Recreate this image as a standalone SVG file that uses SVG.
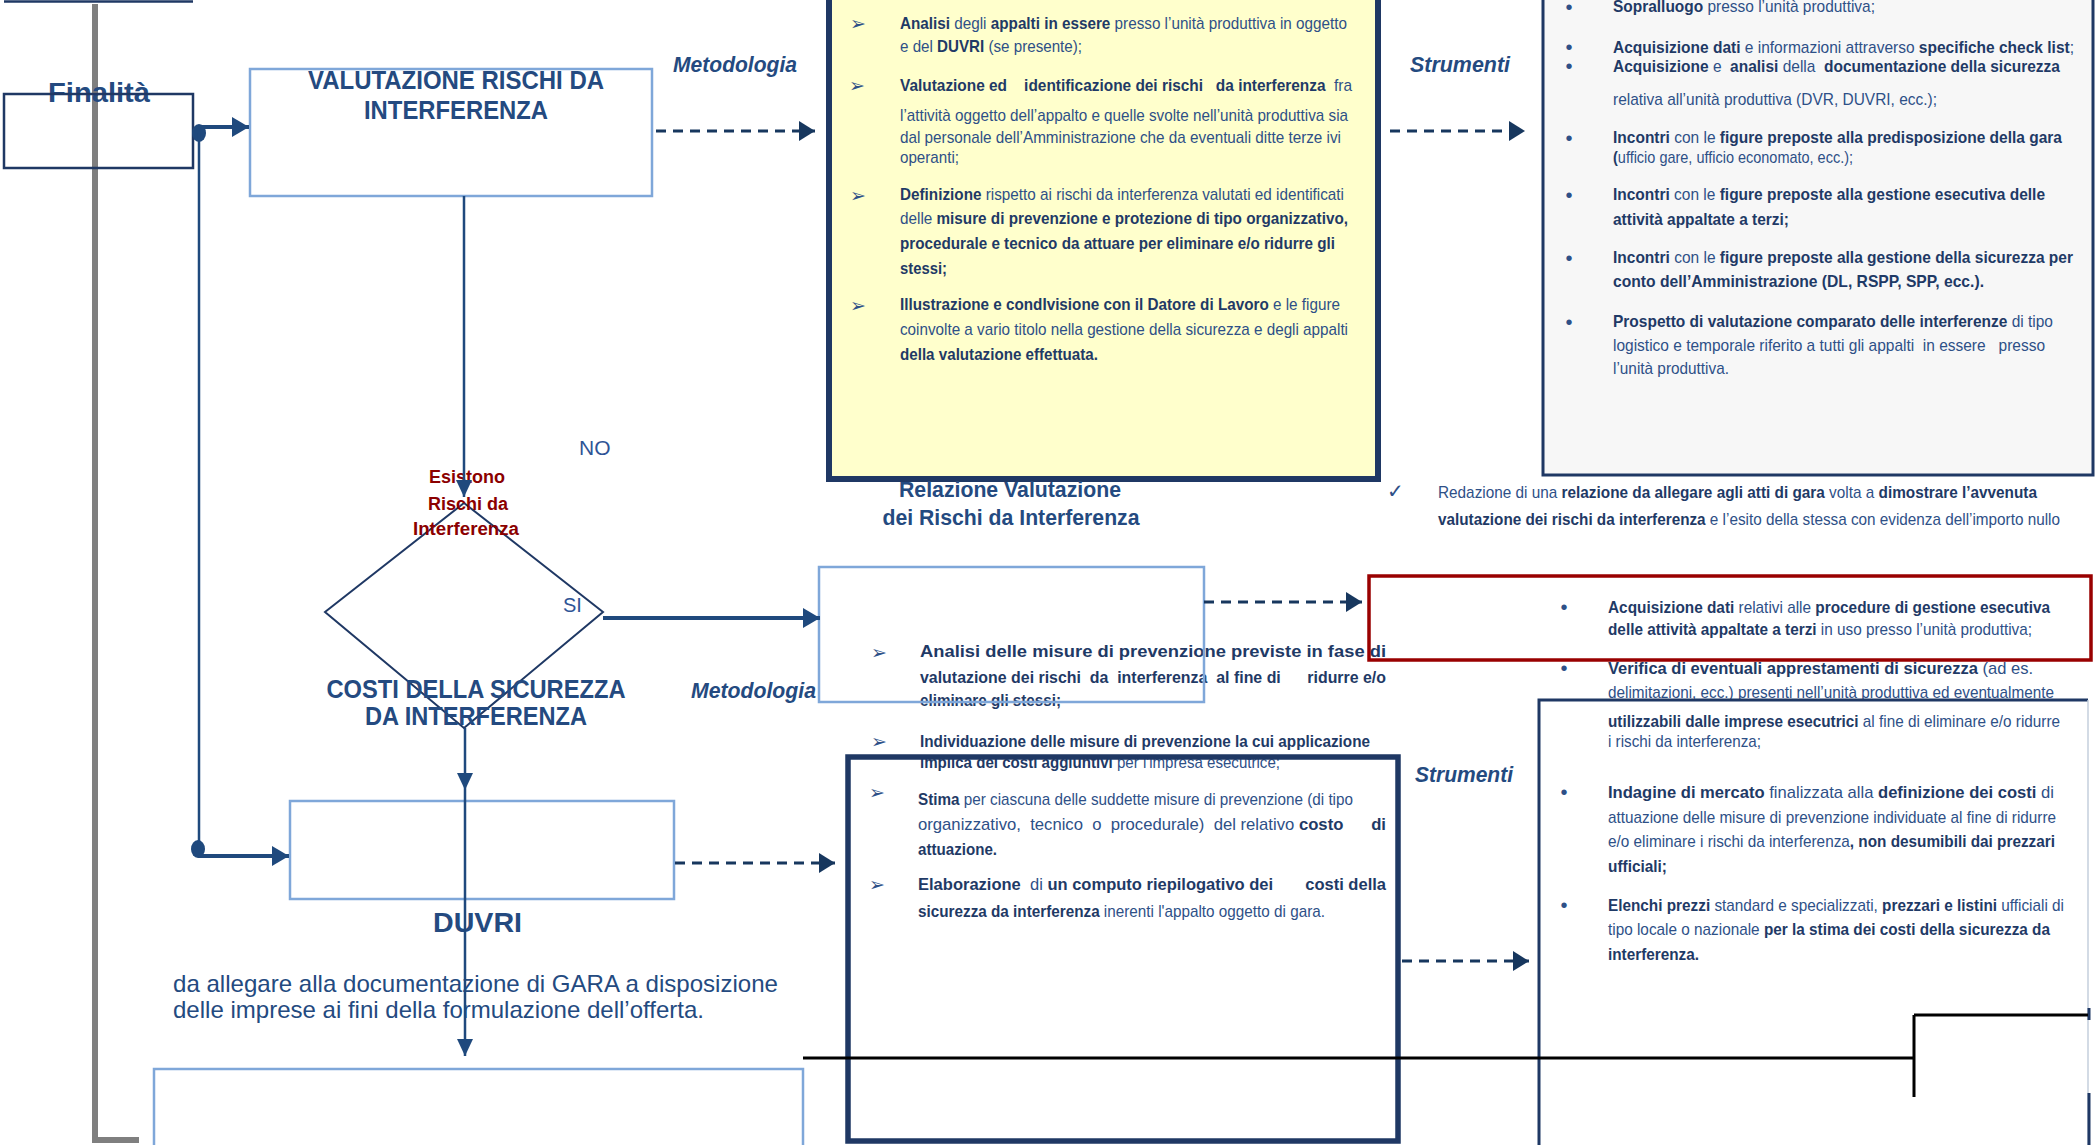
<svg xmlns="http://www.w3.org/2000/svg" width="2100" height="1145" viewBox="0 0 2100 1145">
<defs>
<style>
.bx{fill:none;stroke:#7fa7d9;stroke-width:2.5}
.t{font-family:"Liberation Sans Narrow","Liberation Sans",Arial,sans-serif;font-size:17px;fill:#2e5087}
.b{font-weight:700;fill:#1f3a66}
.h{font-family:"Liberation Sans",Arial,sans-serif;font-weight:700;fill:#244a80}
.hi{font-style:italic;font-size:22px}
.bul{font-family:"DejaVu Sans",sans-serif;font-size:19px;fill:#2e5087;text-anchor:middle}
.dot{font-family:"Liberation Sans",Arial,sans-serif;font-size:20px;fill:#2e5087;text-anchor:middle}
.dash{fill:none;stroke:#17375e;stroke-width:3.2;stroke-dasharray:10 7}
.sol{fill:none;stroke:#1f497d;stroke-width:2.5}
.thk{fill:none;stroke:#1f497d;stroke-width:4}
.nvb{fill:none;stroke:#1f3864}
.blk{fill:none;stroke:#000;stroke-width:3}
</style>
<marker id="ah" markerUnits="userSpaceOnUse" viewBox="0 0 16 20" refX="16" refY="10" markerWidth="16" markerHeight="20" orient="auto"><path d="M0,0L16,10L0,20z" fill="#17375e"/></marker>
<marker id="ar" markerUnits="userSpaceOnUse" viewBox="0 0 17 20" refX="17" refY="10" markerWidth="17" markerHeight="20" orient="auto"><path d="M0,0L17,10L0,20z" fill="#1f497d"/></marker>
<marker id="av" markerUnits="userSpaceOnUse" viewBox="0 0 17 16" refX="17" refY="8" markerWidth="17" markerHeight="16" orient="auto"><path d="M0,0L17,8L0,16z" fill="#1f497d"/></marker>
</defs>
<rect x="0" y="0" width="2100" height="1145" fill="#fff"/>

<g id="timeline">
<path d="M95,4 V1140 H139" fill="none" stroke="#7f7f7f" stroke-width="6"/>
<path d="M4,1.5 H193" class="nvb" stroke-width="2.5"/>
</g>

<g id="finalita">
<text class="h" x="48" y="102" font-size="28" textLength="102" lengthAdjust="spacingAndGlyphs">Finalità</text>
<rect x="4" y="94" width="189" height="74" class="nvb" stroke-width="2.5"/>
</g>

<g id="valutazione">
<rect x="250" y="69" width="402" height="127" class="bx"/>
<text class="h" x="456" y="89" font-size="25" text-anchor="middle" textLength="296" lengthAdjust="spacingAndGlyphs">VALUTAZIONE RISCHI DA</text>
<text class="h" x="456" y="119" font-size="25" text-anchor="middle" textLength="184" lengthAdjust="spacingAndGlyphs">INTERFERENZA</text>
</g>

<g id="metodologia1">
<text class="h hi" x="673" y="72" textLength="124" lengthAdjust="spacingAndGlyphs">Metodologia</text>
<rect x="829" y="-10" width="549" height="489" fill="#ffffcc" stroke="#1f3864" stroke-width="6"/>
<text class="bul" x="858" y="30">➢</text>
<text class="bul" x="857" y="92" font-size="14">➢</text>
<text class="bul" x="858" y="202">➢</text>
<text class="bul" x="858" y="312">➢</text>
<text class="t" x="900" y="29" textLength="447" lengthAdjust="spacingAndGlyphs"><tspan class="b">Analisi</tspan> degli <tspan class="b">appalti in essere</tspan> presso l’unità produttiva in oggetto</text>
<text class="t" x="900" y="52" textLength="182" lengthAdjust="spacingAndGlyphs">e del <tspan class="b">DUVRI</tspan> (se presente);</text>
<text class="t" x="900" y="91" textLength="452" lengthAdjust="spacingAndGlyphs" xml:space="preserve"><tspan class="b">Valutazione ed    identificazione dei rischi   da interferenza</tspan>  fra</text>
<text class="t" x="900" y="121" textLength="448" lengthAdjust="spacingAndGlyphs">l’attività oggetto dell’appalto e quelle svolte nell’unità produttiva sia</text>
<text class="t" x="900" y="143" textLength="441" lengthAdjust="spacingAndGlyphs">dal personale dell’Amministrazione che da eventuali ditte terze ivi</text>
<text class="t" x="900" y="163" textLength="59" lengthAdjust="spacingAndGlyphs">operanti;</text>
<text class="t" x="900" y="200" textLength="444" lengthAdjust="spacingAndGlyphs"><tspan class="b">Definizione</tspan> rispetto ai rischi da interferenza valutati ed identificati</text>
<text class="t" x="900" y="224" textLength="448" lengthAdjust="spacingAndGlyphs">delle <tspan class="b">misure di prevenzione e protezione di tipo organizzativo,</tspan></text>
<text class="t b" x="900" y="249" textLength="435" lengthAdjust="spacingAndGlyphs">procedurale e tecnico da attuare per eliminare e/o ridurre gli</text>
<text class="t b" x="900" y="274" textLength="47" lengthAdjust="spacingAndGlyphs">stessi;</text>
<text class="t" x="900" y="310" textLength="440" lengthAdjust="spacingAndGlyphs"><tspan class="b">Illustrazione e condIvisione con il Datore di Lavoro</tspan> e le figure</text>
<text class="t" x="900" y="335" textLength="448" lengthAdjust="spacingAndGlyphs">coinvolte a vario titolo nella gestione della sicurezza e degli appalti</text>
<text class="t b" x="900" y="360" textLength="198" lengthAdjust="spacingAndGlyphs">della valutazione effettuata.</text>
</g>

<g id="strumenti1">
<text class="h hi" x="1410" y="72" textLength="100" lengthAdjust="spacingAndGlyphs">Strumenti</text>
<rect x="1543" y="-10" width="550" height="485" fill="#f7f7f7" stroke="#1f3864" stroke-width="3"/>
<text class="dot" x="1569" y="14">•</text>
<text class="dot" x="1569" y="54">•</text>
<text class="dot" x="1569" y="73">•</text>
<text class="dot" x="1569" y="145">•</text>
<text class="dot" x="1569" y="202">•</text>
<text class="dot" x="1569" y="265">•</text>
<text class="dot" x="1569" y="329">•</text>
<text class="t" x="1613" y="12" textLength="262" lengthAdjust="spacingAndGlyphs"><tspan class="b">Sopralluogo</tspan> presso l’unità produttiva;</text>
<text class="t" x="1613" y="53" textLength="461" lengthAdjust="spacingAndGlyphs"><tspan class="b">Acquisizione dati</tspan> e informazioni attraverso <tspan class="b">specifiche check list</tspan>;</text>
<text class="t" x="1613" y="72" textLength="447" lengthAdjust="spacingAndGlyphs" xml:space="preserve"><tspan class="b">Acquisizione</tspan> e  <tspan class="b">analisi</tspan> della  <tspan class="b">documentazione della sicurezza</tspan></text>
<text class="t" x="1613" y="105" textLength="324" lengthAdjust="spacingAndGlyphs">relativa all’unità produttiva (DVR, DUVRI, ecc.);</text>
<text class="t" x="1613" y="143" textLength="449" lengthAdjust="spacingAndGlyphs"><tspan class="b">Incontri</tspan> con le <tspan class="b">figure preposte alla predisposizione della gara</tspan></text>
<text class="t" x="1613" y="163" font-size="15" textLength="240" lengthAdjust="spacingAndGlyphs"><tspan class="b">(</tspan>ufficio gare, ufficio economato, ecc.);</text>
<text class="t" x="1613" y="200" textLength="432" lengthAdjust="spacingAndGlyphs"><tspan class="b">Incontri</tspan> con le <tspan class="b">figure preposte alla gestione esecutiva delle</tspan></text>
<text class="t b" x="1613" y="225" textLength="176" lengthAdjust="spacingAndGlyphs">attività appaltate a terzi;</text>
<text class="t" x="1613" y="263" textLength="460" lengthAdjust="spacingAndGlyphs"><tspan class="b">Incontri</tspan> con le <tspan class="b">figure preposte alla gestione della sicurezza per</tspan></text>
<text class="t b" x="1613" y="287" textLength="371" lengthAdjust="spacingAndGlyphs">conto dell’Amministrazione (DL, RSPP, SPP, ecc.).</text>
<text class="t" x="1613" y="327" textLength="440" lengthAdjust="spacingAndGlyphs"><tspan class="b">Prospetto di valutazione comparato delle interferenze</tspan> di tipo</text>
<text class="t" x="1613" y="351" textLength="432" lengthAdjust="spacingAndGlyphs" xml:space="preserve">logistico e temporale riferito a tutti gli appalti  in essere   presso</text>
<text class="t" x="1613" y="374" textLength="116" lengthAdjust="spacingAndGlyphs">l’unità produttiva.</text>
</g>

<g id="relazione">
<text class="h" x="1010" y="497" font-size="22" text-anchor="middle" textLength="222" lengthAdjust="spacingAndGlyphs">Relazione Valutazione</text>
<text class="h" x="1011" y="525" font-size="22" text-anchor="middle" textLength="257" lengthAdjust="spacingAndGlyphs">dei Rischi da Interferenza</text>
<text class="dot" x="1395" y="498" font-family="DejaVu Sans" font-size="15">✓</text>
<text class="t" x="1438" y="498" textLength="599" lengthAdjust="spacingAndGlyphs">Redazione di una <tspan class="b">relazione da allegare agli atti di gara</tspan> volta a <tspan class="b">dimostrare l’avvenuta</tspan></text>
<text class="t" x="1438" y="525" textLength="622" lengthAdjust="spacingAndGlyphs"><tspan class="b">valutazione dei rischi da interferenza</tspan> e l’esito della stessa con evidenza dell’importo nullo</text>
</g>

<g id="decisione">
<path d="M464,503 L325,612 L464,728 L603,612 Z" fill="none" stroke="#1f3864" stroke-width="2"/>
<text class="h" x="467" y="483" font-size="18" style="fill:#8b0000" text-anchor="middle" textLength="76" lengthAdjust="spacingAndGlyphs">Esistono</text>
<text class="h" x="468" y="510" font-size="18" style="fill:#8b0000" text-anchor="middle" textLength="80" lengthAdjust="spacingAndGlyphs">Rischi da</text>
<text class="h" x="466" y="535" font-size="18" style="fill:#8b0000" text-anchor="middle" textLength="106" lengthAdjust="spacingAndGlyphs">Interferenza</text>
<text x="579" y="455" font-family="Liberation Sans, Arial, sans-serif" font-size="21" fill="#2f5496">NO</text>
<text x="563" y="612" font-family="Liberation Sans, Arial, sans-serif" font-size="20" fill="#2f5496">SI</text>
</g>

<g id="costi">
<text class="h" x="476" y="698" font-size="25" text-anchor="middle" textLength="299" lengthAdjust="spacingAndGlyphs">COSTI DELLA SICUREZZA</text>
<text class="h" x="476" y="725" font-size="25" text-anchor="middle" textLength="222" lengthAdjust="spacingAndGlyphs">DA INTERFERENZA</text>
</g>

<g id="metodologia2">
<text class="h hi" x="691" y="698" textLength="125" lengthAdjust="spacingAndGlyphs">Metodologia</text>
<text class="bul" x="879" y="659">➢</text>
<text class="bul" x="879" y="748">➢</text>
<text class="bul" x="877" y="799">➢</text>
<text class="bul" x="877" y="891">➢</text>
<text class="t b" x="920" y="657" textLength="466" lengthAdjust="spacingAndGlyphs">Analisi delle misure di prevenzione previste in fase di</text>
<text class="t b" x="920" y="683" textLength="466" lengthAdjust="spacingAndGlyphs" xml:space="preserve">valutazione dei rischi  da  interferenza  al fine di      ridurre e/o</text>
<text class="t b" x="920" y="706" textLength="141" lengthAdjust="spacingAndGlyphs">eliminare gli stessi;</text>
<text class="t b" x="920" y="747" textLength="450" lengthAdjust="spacingAndGlyphs">Individuazione delle misure di prevenzione la cui applicazione</text>
<text class="t" x="920" y="768" textLength="360" lengthAdjust="spacingAndGlyphs"><tspan class="b">implica dei costi aggiuntivi</tspan> per l'impresa esecutrice;</text>
<rect x="819" y="567" width="385" height="135" class="bx"/>
<rect x="848" y="757" width="550" height="384" class="nvb" stroke-width="5.5"/>
<text class="t" x="918" y="805" textLength="435" lengthAdjust="spacingAndGlyphs"><tspan class="b">Stima</tspan> per ciascuna delle suddette misure di prevenzione (di tipo</text>
<text class="t" x="918" y="830" textLength="468" lengthAdjust="spacingAndGlyphs" xml:space="preserve">organizzativo,  tecnico  o  procedurale)  del relativo <tspan class="b">costo      di</tspan></text>
<text class="t b" x="918" y="855" textLength="79" lengthAdjust="spacingAndGlyphs">attuazione.</text>
<text class="t" x="918" y="890" textLength="468" lengthAdjust="spacingAndGlyphs" xml:space="preserve"><tspan class="b">Elaborazione</tspan>  di <tspan class="b">un computo riepilogativo dei       costi della</tspan></text>
<text class="t" x="918" y="917" textLength="407" lengthAdjust="spacingAndGlyphs"><tspan class="b">sicurezza da interferenza</tspan> inerenti l'appalto oggetto di gara.</text>
</g>

<g id="strumenti2">
<text class="h hi" x="1415" y="782" textLength="98" lengthAdjust="spacingAndGlyphs">Strumenti</text>
<text class="dot" x="1564" y="614">•</text>
<text class="dot" x="1564" y="675">•</text>
<text class="dot" x="1564" y="799">•</text>
<text class="dot" x="1564" y="912">•</text>
<text class="t" x="1608" y="613" textLength="442" lengthAdjust="spacingAndGlyphs"><tspan class="b">Acquisizione dati</tspan> relativi alle <tspan class="b">procedure di gestione esecutiva</tspan></text>
<text class="t" x="1608" y="635" textLength="424" lengthAdjust="spacingAndGlyphs"><tspan class="b">delle attività appaltate a terzi</tspan> in uso presso l’unità produttiva;</text>
<text class="t" x="1608" y="674" textLength="425" lengthAdjust="spacingAndGlyphs"><tspan class="b">Verifica di eventuali apprestamenti di sicurezza</tspan> (ad es.</text>
<text class="t" x="1608" y="698" textLength="446" lengthAdjust="spacingAndGlyphs">delimitazioni, ecc.) presenti nell’unità produttiva ed eventualmente</text>
<text class="t" x="1608" y="727" textLength="452" lengthAdjust="spacingAndGlyphs"><tspan class="b">utilizzabili dalle imprese esecutrici</tspan> al fine di eliminare e/o ridurre</text>
<text class="t" x="1608" y="747" textLength="153" lengthAdjust="spacingAndGlyphs">i rischi da interferenza;</text>
<text class="t" x="1608" y="798" textLength="446" lengthAdjust="spacingAndGlyphs"><tspan class="b">Indagine di mercato</tspan> finalizzata alla <tspan class="b">definizione dei costi</tspan> di</text>
<text class="t" x="1608" y="823" textLength="448" lengthAdjust="spacingAndGlyphs">attuazione delle misure di prevenzione individuate al fine di ridurre</text>
<text class="t" x="1608" y="847" textLength="447" lengthAdjust="spacingAndGlyphs">e/o eliminare i rischi da interferenza<tspan class="b">, non desumibili dai prezzari</tspan></text>
<text class="t b" x="1608" y="872" textLength="59" lengthAdjust="spacingAndGlyphs">ufficiali;</text>
<text class="t" x="1608" y="911" textLength="456" lengthAdjust="spacingAndGlyphs"><tspan class="b">Elenchi prezzi</tspan> standard e specializzati, <tspan class="b">prezzari e listini</tspan> ufficiali di</text>
<text class="t" x="1608" y="935" textLength="442" lengthAdjust="spacingAndGlyphs">tipo locale o nazionale <tspan class="b">per la stima dei costi della sicurezza da</tspan></text>
<text class="t b" x="1608" y="960" textLength="91" lengthAdjust="spacingAndGlyphs">interferenza.</text>
<rect x="1369" y="576" width="722" height="84" fill="none" stroke="#990000" stroke-width="3.5"/>
<path d="M1539,1150 V700 H2088" class="nvb" stroke-width="3"/>
<path d="M2088,700 V1145" fill="none" stroke="#c5cfdc" stroke-width="1.5"/>
<path d="M2089,1008 V1020 M2089,1093 V1145" class="nvb" stroke-width="3"/>
</g>

<g id="duvri">
<rect x="290" y="801" width="384" height="98" class="bx"/>
<text class="h" x="433" y="932" font-size="28" textLength="89" lengthAdjust="spacingAndGlyphs">DUVRI</text>
<text x="173" y="992" font-family="Liberation Sans, Arial, sans-serif" font-size="24" fill="#244a80" textLength="605" lengthAdjust="spacingAndGlyphs">da allegare alla documentazione di GARA a disposizione</text>
<text x="173" y="1018" font-family="Liberation Sans, Arial, sans-serif" font-size="24" fill="#244a80" textLength="531" lengthAdjust="spacingAndGlyphs">delle imprese ai fini della formulazione dell’offerta.</text>
</g>

<g id="gara">
<rect x="154" y="1069" width="649" height="100" class="bx"/>
</g>

<g id="connectors">
<ellipse cx="199" cy="133" rx="7" ry="9" fill="#1f497d"/>
<ellipse cx="198" cy="849" rx="7" ry="9" fill="#1f497d"/>
<path d="M199,133 V849" class="sol"/>
<path d="M199,127 H249" class="thk" marker-end="url(#ar)"/>
<path d="M198,856 H289" class="thk" marker-end="url(#ar)"/>
<path d="M464,196 V497" class="sol" marker-end="url(#av)"/>
<path d="M603,618 H820" class="thk" marker-end="url(#ar)"/>
<path d="M465,728 V790" class="sol" marker-end="url(#av)"/>
<path d="M465,790 V1056" class="sol" marker-end="url(#av)"/>
<path d="M656,131 H815" class="dash" marker-end="url(#ah)"/>
<path d="M1390,131 H1525" class="dash" marker-end="url(#ah)"/>
<path d="M1204,602 H1362" class="dash" marker-end="url(#ah)"/>
<path d="M675,863 H835" class="dash" marker-end="url(#ah)"/>
<path d="M1402,961 H1529" class="dash" marker-end="url(#ah)"/>
<path d="M803,1058 H1914 M1914,1015 V1097 M1914,1015 H2088" class="blk"/>
</g>
</svg>
